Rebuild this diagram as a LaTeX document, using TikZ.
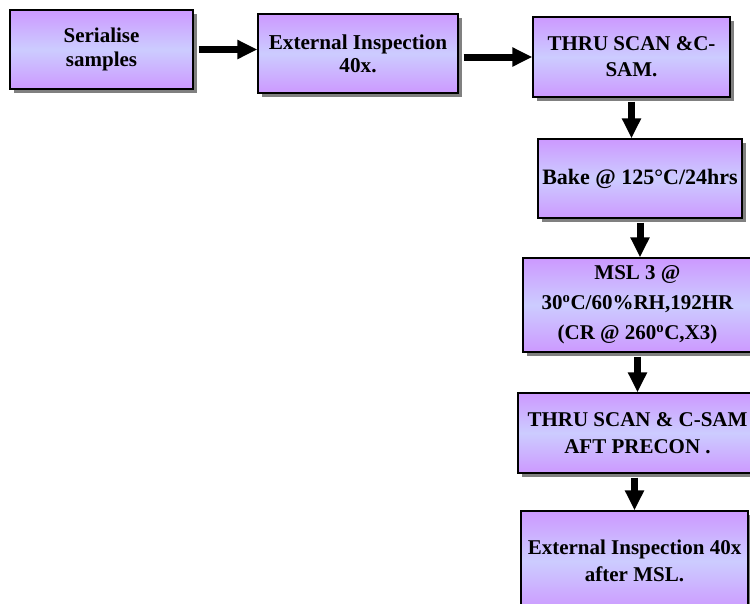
\documentclass[tikz,border=0pt]{standalone}
\usepackage{fontspec}
\setmainfont{Liberation Serif}
\usetikzlibrary{arrows.meta,shadows}
\definecolor{boxpurple}{RGB}{204,153,255}
\definecolor{boxlav}{RGB}{204,204,255}
\definecolor{shadowgray}{RGB}{128,128,128}
\tikzset{
  box/.style={draw=black, line width=1.2pt, top color=boxpurple, bottom color=boxpurple, middle color=boxlav,
    drop shadow={shadow xshift=4pt, shadow yshift=-4pt, fill=shadowgray, opacity=1},
    inner sep=0pt, align=center, text=black},
  txt/.style 2 args={font=\bfseries\fontsize{#1}{#2}\selectfont},
  arr/.style={line width=7pt, -{Triangle[length=20pt,width=18pt]}}
}
\begin{document}
\begin{tikzpicture}[x=1pt,y=-1pt]
\useasboundingbox (0,0) rectangle (750,603);
\clip (0,0) rectangle (750,603);
\node[box, txt={21}{24}, minimum width=183pt, minimum height=79pt] (b1) at (101.5,49.5) {Serialise\\samples};
\node[box, txt={21.2}{23}, minimum width=200pt, minimum height=79pt] (b2) at (358,53.5) {External Inspection\\40x.};
\node[box, txt={21}{26}, minimum width=197pt, minimum height=80pt] (b3) at (631.5,57) {THRU SCAN \&C-\\SAM.};
\node[box, txt={22}{24}, minimum width=204pt, minimum height=79pt] (b4) at (640,178.5) {Bake @ 125°C/24hrs};
\node[box, txt={21}{30}, minimum width=229pt, minimum height=94pt] (b5) at (637.5,305) {MSL 3 @\\30\textsuperscript{o}C/60\%RH,192HR\\(CR @ 260\textsuperscript{o}C,X3)};
\node[box, txt={21}{27}, minimum width=239pt, minimum height=80pt] (b6) at (637.5,433) {THRU SCAN \& C-SAM\\AFT PRECON .};
\node[box, txt={21}{27}, minimum width=227pt, minimum height=100pt] (b7) at (634.5,561) {External Inspection 40x\\after MSL.};
\draw[arr] ([xshift=5pt]b1.east) -- (b1.east -| b2.west);
\draw[arr] ([xshift=5pt]b2.east |- b3.west) -- (b3.west);
\draw[arr] ([yshift=-4pt]b3.south) -- (b3.south |- b4.north);
\draw[arr] ([yshift=-4pt]b4.south) -- (b4.south |- b5.north);
\draw[arr] ([yshift=-4pt]b5.south) -- (b5.south |- b6.north);
\draw[arr] ([yshift=-4pt]b6.south -| b7.north) -- (b7.north);
\end{tikzpicture}
\end{document}
